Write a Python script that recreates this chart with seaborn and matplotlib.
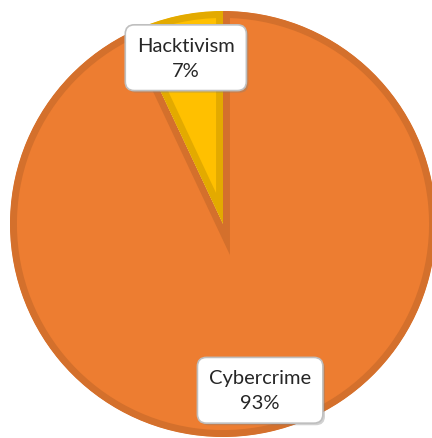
import numpy as np
import pandas as pd
import matplotlib.pyplot as plt
import matplotlib.patheffects as pe
import seaborn as sns

categories = ['Cybercrime', 'Hacktivism']
shares = [93, 7]

fill_colors = ['#ED7D31', '#FFC000']
edge_colors = ['#D4702C', '#E3AA00']

sns.set_style('white')
plt.rcParams['font.family'] = ['Lato', 'DejaVu Sans']

df = pd.DataFrame({'category': categories, 'share': shares})
labels = [f"{c}\n{s}%" for c, s in zip(df['category'], df['share'])]

fig = plt.figure(figsize=(4.32, 4.39), dpi=100)
ax = fig.add_axes([0, 0, 1, 1])

wedges, texts = ax.pie(df['share'], labels=labels, colors=fill_colors,
                       startangle=90, counterclock=False, labeldistance=0.8,
                       radius=1.0,
                       wedgeprops=dict(linewidth=10, joinstyle='miter'),
                       textprops=dict(ha='center', va='center', fontsize=14.5,
                                      color='#262626', linespacing=1.6))

# keep the darker border inside each slice (pie turns clipping off)
for w, ec in zip(wedges, edge_colors):
    w.set_edgecolor(ec)
    w.set_clip_on(True)
    w.set_clip_path(w.get_path(), w.get_transform())

for t in texts:
    t.set_bbox(dict(boxstyle='round,pad=0.58,rounding_size=0.45',
                    facecolor='white', edgecolor='#BFBFBF', linewidth=1.2))
    t.get_bbox_patch().set_path_effects(
        [pe.SimplePatchShadow(offset=(1.5, -1.5), shadow_rgbFace='#808080', alpha=0.35),
         pe.Normal()])

# pixel layout: centre at (223, 225) from top-left, radius 213 px
r = 213
ax.set_aspect('auto')
ax.set_xlim(-223 / r, (432 - 223) / r)
ax.set_ylim(-(439 - 225) / r, 225 / r)
ax.axis('off')

fig.savefig('out.png', dpi=100)
